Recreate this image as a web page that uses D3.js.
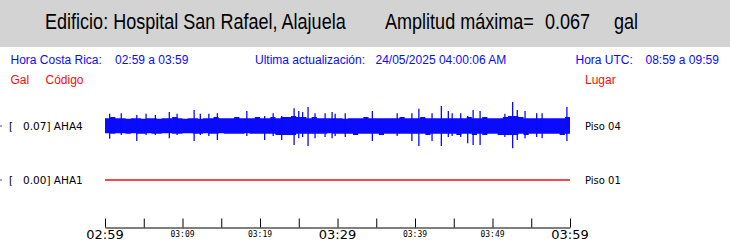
<!DOCTYPE html>
<html>
<head>
<meta charset="utf-8">
<script src="https://cdn.jsdelivr.net/npm/d3@7"></script>
<style>
  body { margin: 0; background: #fff; }
  svg { display: block; }
</style>
</head>
<body>
<svg id="chart" width="730" height="247"></svg>
<script>
// header texts
var titleBuilding = 'Edificio: Hospital San Rafael, Alajuela';
var titleAmp = 'Amplitud máxima=';
var maxAmp = '0.067';
var ampUnit = 'gal';

// channels
var channelCodes = ['AHA4', 'AHA1'];
var channelGal = ['0.07', '0.00'];
var channelPlace = ['Piso 04', 'Piso 01'];

// time axis (minutes after 02:59)
var tickMinutes = [0, 5, 10, 15, 20, 25, 30, 35, 40, 45, 50, 55, 60];
var labelMinutes = [0, 10, 20, 30, 40, 50, 60];
var labelText = ['02:59', '03:09', '03:19', '03:29', '03:39', '03:49', '03:59'];
var labelBig = [true, false, false, true, false, false, true];

// AHA4 envelope, one sample every 40 s (gal)
var envUpper = [
  0.022, 0.025, 0.022, 0.022, 0.020, 0.022, 0.022, 0.020, 0.022, 0.022,
  0.020, 0.022, 0.022, 0.025, 0.022, 0.020, 0.022, 0.022, 0.020, 0.022,
  0.022, 0.025, 0.022, 0.022, 0.022, 0.025, 0.022, 0.022, 0.022, 0.025,
  0.022, 0.022, 0.025, 0.022, 0.025, 0.025, 0.028, 0.025, 0.025, 0.022,
  0.025, 0.022, 0.022, 0.022, 0.022, 0.022, 0.020, 0.022, 0.022, 0.022,
  0.025, 0.022, 0.022, 0.022, 0.022, 0.022, 0.022, 0.025, 0.022, 0.022,
  0.022, 0.025, 0.022, 0.022, 0.022, 0.022, 0.022, 0.022, 0.022, 0.022,
  0.025, 0.022, 0.022, 0.025, 0.022, 0.022, 0.022, 0.025, 0.028, 0.028,
  0.025, 0.022, 0.022, 0.022, 0.022, 0.022, 0.022, 0.022, 0.022, 0.025
];
var envLower = [
  0.020, 0.022, 0.020, 0.020, 0.022, 0.020, 0.022, 0.022, 0.020, 0.022,
  0.022, 0.020, 0.020, 0.022, 0.022, 0.020, 0.020, 0.022, 0.022, 0.020,
  0.022, 0.022, 0.020, 0.022, 0.022, 0.022, 0.022, 0.020, 0.022, 0.022,
  0.022, 0.022, 0.022, 0.025, 0.025, 0.025, 0.025, 0.022, 0.022, 0.022,
  0.022, 0.022, 0.022, 0.020, 0.022, 0.022, 0.022, 0.022, 0.025, 0.022,
  0.022, 0.022, 0.022, 0.025, 0.022, 0.022, 0.022, 0.022, 0.022, 0.022,
  0.022, 0.022, 0.025, 0.022, 0.022, 0.022, 0.022, 0.022, 0.025, 0.022,
  0.022, 0.025, 0.022, 0.025, 0.022, 0.022, 0.025, 0.025, 0.025, 0.025,
  0.022, 0.025, 0.022, 0.022, 0.022, 0.022, 0.022, 0.022, 0.025, 0.022
];

// AHA4 single peaks (minute, up, down in gal)
var peakMinute = [0.6, 2.1, 4.1, 5.3, 6.5, 8.3, 9.3, 11.5, 12.3, 13.4, 14.5, 18.3, 20.6, 21.7,
  22.8, 24.4, 25.0, 25.5, 26.2, 27.1, 28.4, 29.3, 29.7, 31.0, 34.5, 37.7, 39.6, 40.5, 42.2,
  43.4, 44.3, 44.8, 45.9, 46.8, 47.5, 48.4, 51.6, 52.6, 53.2, 54.2, 55.7, 56.4, 59.6];
var peakUp = [0.034, 0.036, 0.031, 0.034, 0.031, 0.039, 0.034, 0.045, 0.034, 0.034, 0.036, 0.042, 0.028, 0.036,
  0.028, 0.050, 0.042, 0.039, 0.053, 0.036, 0.036, 0.039, 0.034, 0.036, 0.042, 0.036, 0.036, 0.048, 0.036,
  0.056, 0.042, 0.036, 0.036, 0.028, 0.045, 0.042, 0.034, 0.067, 0.045, 0.042, 0.036, 0.036, 0.053];
var peakDown = [0.036, 0.025, 0.042, 0.025, 0.025, 0.034, 0.025, 0.042, 0.025, 0.028, 0.039, 0.028, 0.039, 0.028,
  0.039, 0.053, 0.034, 0.031, 0.056, 0.034, 0.031, 0.034, 0.028, 0.031, 0.042, 0.028, 0.042, 0.056, 0.042,
  0.056, 0.031, 0.028, 0.031, 0.048, 0.053, 0.053, 0.031, 0.062, 0.039, 0.034, 0.031, 0.034, 0.042];

// AHA1 flat record
var aha1Minute = [0, 60];
var aha1Value = [0, 0];

var svg = d3.select('#chart');
var blue = '#0a0aff';
var red = '#ff0a0a';
var t0 = new Date(2025, 4, 24, 2, 59, 0);
var atMin = function (m) { return new Date(t0.getTime() + m * 60000); };

// Header band
svg.append('rect').attr('x', 0).attr('y', 0).attr('width', 730).attr('height', 47).attr('fill', '#d3d3d3');

// narrow title: Liberation Sans squeezed horizontally
var head = [[45, titleBuilding], [385, titleAmp], [545, maxAmp], [614, ampUnit]];
head.forEach(function (h) {
  svg.append('text').text(h[1])
    .attr('transform', 'translate(' + h[0] + ',29) scale(0.82,1)')
    .style('font-family', '"Liberation Sans", Arial, sans-serif')
    .style('font-size', '22px')
    .style('fill', '#000');
});

// Info line
var info = [[10.5, 'Hora Costa Rica:'], [115, '02:59 a 03:59'], [255, 'Ultima actualización:'],
  [375.5, '24/05/2025 04:00:06 AM'], [575.5, 'Hora UTC:'], [645.5, '08:59 a 09:59']];
info.forEach(function (h) {
  svg.append('text').text(h[1])
    .attr('x', h[0]).attr('y', 64)
    .style('font-family', '"Liberation Sans", Arial, sans-serif')
    .style('font-size', '12px')
    .style('fill', blue);
});
[[10.5, 'Gal'], [45.5, 'Código'], [585, 'Lugar']].forEach(function (h) {
  svg.append('text').text(h[1])
    .attr('x', h[0]).attr('y', 84)
    .style('font-family', '"Liberation Sans", Arial, sans-serif')
    .style('font-size', '12px')
    .style('fill', red);
});

// Scales
var x = d3.scaleTime().domain([atMin(0), atMin(60)]).range([105, 570]);
var rowY = d3.scalePoint().domain(channelCodes).range([126, 180]);
var amp = d3.scaleLinear().domain([-0.07, 0.07]).range([25, -25]);

// Channel labels
channelCodes.forEach(function (c, i) {
  var yy = rowY(c);
  svg.append('rect').attr('x', 0).attr('y', yy - 1).attr('width', 2).attr('height', 2).attr('fill', '#9a9aff');
  svg.append('text').text('[').attr('x', 9).attr('y', yy + 4)
    .style('font-family', '"DejaVu Sans", sans-serif').style('font-size', '10.5px').style('fill', '#000');
  svg.append('text').text(channelGal[i] + '] ' + c).attr('x', 23).attr('y', yy + 4)
    .style('font-family', '"DejaVu Sans", sans-serif').style('font-size', '10.5px').style('fill', '#000');
  svg.append('text').text(channelPlace[i]).attr('x', 585).attr('y', yy + 4)
    .style('font-family', '"DejaVu Sans", sans-serif').style('font-size', '10px').style('fill', '#000');
});

// AHA4 trace
var g4 = svg.append('g').attr('transform', 'translate(0,' + rowY('AHA4') + ')');
var env = envUpper.map(function (u, i) { return { t: atMin(i * 40 / 60), u: u, l: envLower[i] }; });
env.push({ t: atMin(60), u: envUpper[envUpper.length - 1], l: envLower[envLower.length - 1] });
g4.append('path')
  .datum(env)
  .attr('fill', blue)
  .attr('d', d3.area().curve(d3.curveStepAfter)
    .x(function (d) { return x(d.t); })
    .y0(function (d) { return amp(-d.l); })
    .y1(function (d) { return amp(d.u); }));
g4.selectAll('line.peak')
  .data(peakMinute)
  .enter().append('line')
  .attr('class', 'peak')
  .attr('x1', function (d) { return x(atMin(d)); })
  .attr('x2', function (d) { return x(atMin(d)); })
  .attr('y1', function (d, i) { return amp(peakUp[i]); })
  .attr('y2', function (d, i) { return amp(-peakDown[i]); })
  .attr('stroke', blue)
  .attr('stroke-width', 1.3);

// AHA1 trace
var g1 = svg.append('g').attr('transform', 'translate(0,' + rowY('AHA1') + ')');
g1.append('path')
  .datum(aha1Minute.map(function (m, i) { return { t: atMin(m), v: aha1Value[i] }; }))
  .attr('fill', 'none')
  .attr('stroke', red)
  .attr('stroke-width', 1.5)
  .attr('d', d3.line().x(function (d) { return x(d.t); }).y(function (d) { return amp(d.v); }));

// Time axis
var axis = d3.axisTop(x)
  .tickValues(tickMinutes.map(atMin))
  .tickSize(9)
  .tickSizeOuter(0)
  .tickFormat('');
var ax = svg.append('g').attr('transform', 'translate(0,227.5)').call(axis);
ax.select('.domain').attr('stroke', '#000');
ax.selectAll('.tick line').attr('stroke', '#000');

svg.selectAll('text.tlabel')
  .data(labelMinutes)
  .enter().append('text')
  .attr('class', 'tlabel')
  .text(function (d, i) { return labelText[i]; })
  .attr('x', function (d) { return x(atMin(d)); })
  .attr('y', function (d, i) { return labelBig[i] ? 238.5 : 236.5; })
  .attr('text-anchor', 'middle')
  .style('font-family', function (d, i) { return labelBig[i] ? '"DejaVu Sans", sans-serif' : '"DejaVu Sans Mono", monospace'; })
  .style('font-size', function (d, i) { return labelBig[i] ? '13px' : '8px'; })
  .style('fill', '#000');
</script>
</body>
</html>
